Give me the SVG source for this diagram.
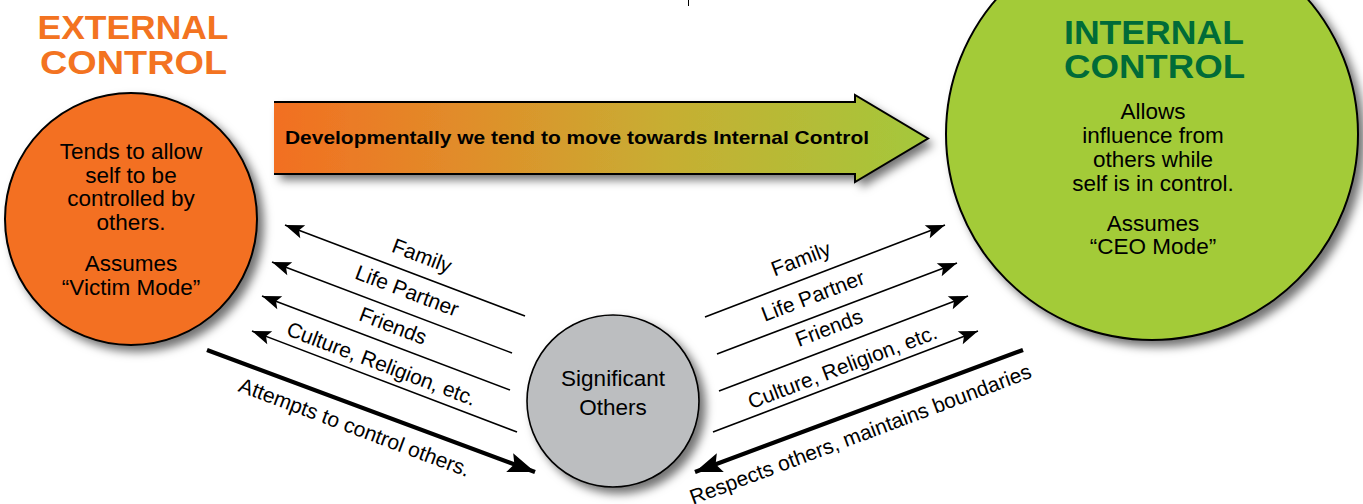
<svg xmlns="http://www.w3.org/2000/svg" width="1363" height="504" viewBox="0 0 1363 504">
<style>
.t{font-family:"Liberation Sans",Arial,sans-serif;fill:#000}
.c{font-size:22.5px;text-anchor:middle}
.lbl{font-size:21px;text-anchor:middle}
.title{font-family:"Liberation Sans",Arial,sans-serif;font-weight:bold;text-anchor:middle}
.thin{stroke:#000;stroke-width:1.6;fill:none;marker-end:url(#ah)}
.thick{stroke:#000;stroke-width:4.2;fill:none;marker-end:url(#ahb)}
</style>
<defs>
<filter id="sh" x="-20%" y="-20%" width="150%" height="150%">
<feDropShadow dx="6" dy="6" stdDeviation="5" flood-color="#000" flood-opacity="0.55"/>
</filter>
<linearGradient id="grad" x1="274" y1="0" x2="928" y2="0" gradientUnits="userSpaceOnUse">
<stop offset="0" stop-color="#F26F22"/>
<stop offset="0.3" stop-color="#E08E2A"/>
<stop offset="0.6" stop-color="#C7AE32"/>
<stop offset="1" stop-color="#A4C83B"/>
</linearGradient>
<marker id="ah" viewBox="-22 -10 24 20" markerWidth="24" markerHeight="20" refX="0" refY="0" orient="auto" markerUnits="userSpaceOnUse">
<path d="M0,0 L-19,-7 L-15,0 L-19,7 Z" fill="#000"/>
</marker>
<marker id="ahb" viewBox="-30 -13 32 26" markerWidth="32" markerHeight="26" refX="0" refY="0" orient="auto" markerUnits="userSpaceOnUse">
<path d="M0,0 L-27,-10 L-22,0 L-27,10 Z" fill="#000"/>
</marker>
</defs>
<rect width="1363" height="504" fill="#fff"/>
<line x1="688.5" y1="0" x2="688.5" y2="6" stroke="#000" stroke-width="1"/>

<g id="external">
<text class="title" x="133" y="39" font-size="33" fill="#F37321" textLength="191" lengthAdjust="spacingAndGlyphs">EXTERNAL</text>
<text class="title" x="133.5" y="74" font-size="33" fill="#F37321" textLength="187" lengthAdjust="spacingAndGlyphs">CONTROL</text>
<circle cx="131" cy="219" r="126" fill="#F37021" stroke="#000" stroke-width="2" filter="url(#sh)"/>
<text class="t c" x="131" y="159">Tends to allow</text>
<text class="t c" x="131" y="183">self to be</text>
<text class="t c" x="131" y="206">controlled by</text>
<text class="t c" x="131" y="230">others.</text>
<text class="t c" x="131" y="271">Assumes</text>
<text class="t c" x="131" y="295">“Victim Mode”</text>
</g>

<g id="internal">
<circle cx="1152" cy="134" r="206" fill="#A3CB39" stroke="#000" stroke-width="2" filter="url(#sh)"/>
<text class="title" x="1154" y="44" font-size="34" fill="#006B38" textLength="180" lengthAdjust="spacingAndGlyphs">INTERNAL</text>
<text class="title" x="1154.5" y="77.5" font-size="34" fill="#006B38" textLength="181" lengthAdjust="spacingAndGlyphs">CONTROL</text>
<text class="t c" x="1153" y="119" font-size="23">Allows</text>
<text class="t c" x="1153" y="143" font-size="23">influence from</text>
<text class="t c" x="1153" y="167" font-size="23">others while</text>
<text class="t c" x="1153" y="191" font-size="23">self is in control.</text>
<text class="t c" x="1153" y="231" font-size="23">Assumes</text>
<text class="t c" x="1153" y="254" font-size="23">“CEO Mode”</text>
</g>

<g id="significant">
<circle cx="613" cy="401" r="86" fill="#BCBEC0" stroke="#000" stroke-width="1.6" filter="url(#sh)"/>
<text class="t c" x="613" y="386">Significant</text>
<text class="t c" x="613" y="415">Others</text>
</g>

<g id="development">
<polygon points="274,102 855,102 855,95 928,138.5 855,182 855,174 274,174" fill="url(#grad)" filter="url(#sh)"/>
<polyline points="274,102 855,102 855,95 928,138.5 855,182 855,174 274,174" fill="none" stroke="#000" stroke-width="2"/>
<text class="t" x="285" y="144" font-size="18.5" font-weight="bold" textLength="584" lengthAdjust="spacingAndGlyphs">Developmentally we tend to move towards Internal Control</text>
</g>

<g id="connectors">
<line class="thin" x1="525" y1="316" x2="285" y2="225"/>
<line class="thin" x1="512" y1="353" x2="272" y2="262"/>
<line class="thin" x1="510" y1="390" x2="262" y2="296"/>
<line class="thin" x1="517" y1="432" x2="252" y2="331"/>
<line class="thin" x1="705" y1="317" x2="945" y2="225"/>
<line class="thin" x1="717" y1="354" x2="957" y2="263"/>
<line class="thin" x1="719" y1="391" x2="968" y2="296"/>
<line class="thin" x1="713" y1="432" x2="978" y2="331"/>
<line class="thick" x1="207" y1="350" x2="535" y2="472"/>
<line class="thick" x1="1023" y1="350" x2="695" y2="472"/>
<text class="t lbl" x="419.5" y="262.5" transform="rotate(20.8 419.5 262.5)">Family</text>
<text class="t lbl" x="404.5" y="297.5" transform="rotate(20.8 404.5 297.5)">Life Partner</text>
<text class="t lbl" x="390.5" y="332.5" transform="rotate(20.8 390.5 332.5)">Friends</text>
<text class="t lbl" x="379" y="370.5" transform="rotate(20.8 379 370.5)">Culture, Religion, etc.</text>
<text class="t lbl" x="352" y="434" transform="rotate(20.6 352 434)">Attempts to control others.</text>
<text class="t lbl" x="803.5" y="265.5" transform="rotate(-20.8 803.5 265.5)">Family</text>
<text class="t lbl" x="815.5" y="302.5" transform="rotate(-20.8 815.5 302.5)">Life Partner</text>
<text class="t lbl" x="831.5" y="334.5" transform="rotate(-20.8 831.5 334.5)">Friends</text>
<text class="t lbl" x="845" y="373.5" transform="rotate(-20.8 845 373.5)">Culture, Religion, etc.</text>
<text class="t lbl" x="863" y="441" transform="rotate(-20.6 863 441)">Respects others, maintains boundaries</text>
</g>
</svg>
